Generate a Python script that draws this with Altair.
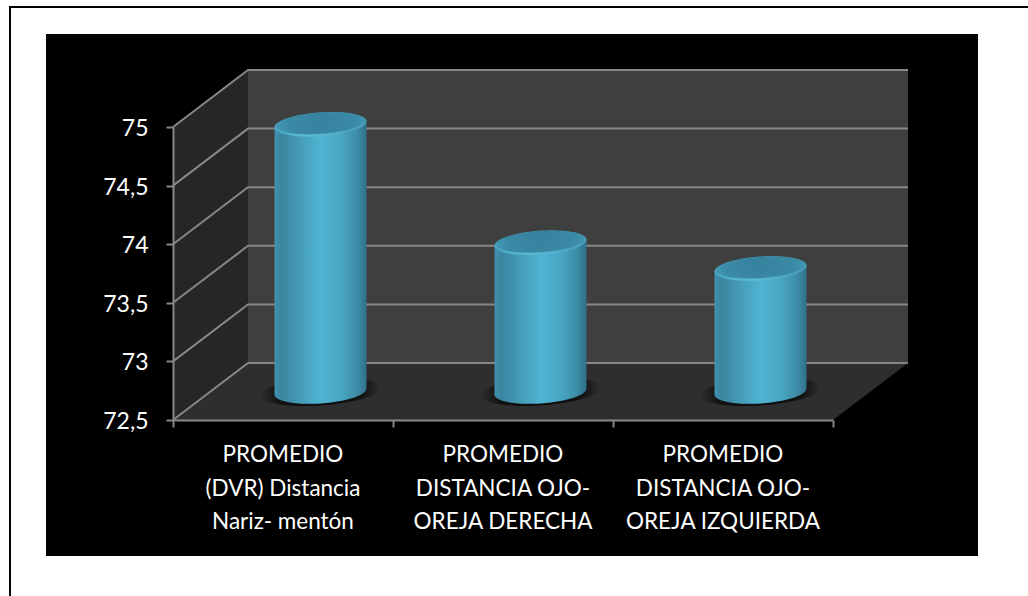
import numpy as np
import pandas as pd
import altair as alt

# Chart content
categories = [
    "PROMEDIO\n(DVR) Distancia\nNariz- mentón",
    "PROMEDIO\nDISTANCIA OJO-\nOREJA DERECHA",
    "PROMEDIO\nDISTANCIA OJO-\nOREJA IZQUIERDA",
]
values = [74.78, 73.77, 73.55]
y_ticks = [72.5, 73, 73.5, 74, 74.5, 75]
x_ticks = [0, 1, 2, 3]

# Plot box and oblique projection
PLOT_W, PLOT_H = 660, 293
Y_MIN, Y_MAX = 72.5, 75.0
PX_X = PLOT_W / 3
PX_Y = PLOT_H / (Y_MAX - Y_MIN)
DEPTH_X = 75 / PX_X
DEPTH_Y = 57 / PX_Y

GRID = "#878787"
FONT = "Lato"


def hx(px):
    return px / PX_X


def vy(px):
    return px / PX_Y


# Scales and axes shared by every layer
x_scale = alt.Scale(domain=[0, 3], range=[0, PLOT_W], nice=False, zero=False)
y_scale = alt.Scale(domain=[Y_MIN, Y_MAX], range=[PLOT_H, 0], nice=False, zero=False)
axis_base = dict(
    domainColor=GRID, domainWidth=2, tickColor=GRID, tickWidth=2, tickSize=7,
    labelColor="#ffffff", labelFont=FONT, grid=False, title=None,
    zindex=1,
)
x_axis = alt.Axis(values=x_ticks, labels=False, **axis_base)
y_axis = alt.Axis(
    values=y_ticks, labelPadding=18, labelFontSize=23, labelOffset=1.5,
    labelExpr="replace(format(datum.value, '.1~f'), '.', ',')",
    **axis_base,
)
X = lambda f: alt.X(f, type="quantitative", scale=x_scale, axis=x_axis)
Y = lambda f: alt.Y(f, type="quantitative", scale=y_scale, axis=y_axis)


def rect_layer(x0, x1, y0, y1, color):
    df = pd.DataFrame({"x": [x0], "x2": [x1], "y": [y0], "y2": [y1]})
    return alt.Chart(df).mark_rect(color=color).encode(
        x=X("x"), x2="x2", y=Y("y"), y2="y2"
    )


# Black panel and page rules
panel = rect_layer(hx(46 - 173), hx(978 - 173), Y_MIN + vy(420 - 34), Y_MIN - vy(556 - 420), "#000000")
rule_top = rect_layer(hx(9 - 173), hx(1028 - 173), Y_MIN + vy(420 - 6), Y_MIN + vy(420 - 8), "#000000")
rule_left = rect_layer(hx(9 - 173), hx(11 - 173), Y_MIN + vy(420 - 6), Y_MIN - vy(596 - 420), "#000000")

# Walls and floor of the box
side_wall = pd.DataFrame({
    "x": [0, DEPTH_X],
    "y": [Y_MAX, Y_MAX + DEPTH_Y],
    "y2": [Y_MIN, Y_MIN + DEPTH_Y],
})
back_wall = pd.DataFrame({
    "x": [DEPTH_X, 3 + DEPTH_X],
    "y": [Y_MAX + DEPTH_Y] * 2,
    "y2": [Y_MIN + DEPTH_Y] * 2,
})
floor = pd.DataFrame({
    "x": [0, DEPTH_X, 3, 3 + DEPTH_X],
    "y": [Y_MIN, Y_MIN + DEPTH_Y, Y_MIN + DEPTH_Y, Y_MIN + DEPTH_Y],
    "y2": [Y_MIN, Y_MIN, Y_MIN, Y_MIN + DEPTH_Y],
})


def wall_layer(df, color):
    return alt.Chart(df).mark_area(color=color, interpolate="linear").encode(
        x=X("x"), y=Y("y"), y2="y2"
    )


# Gridlines running along the side wall and across the back wall
grid_rows = []
for i, t in enumerate(y_ticks):
    grid_rows += [
        {"g": i, "o": 0, "x": 0, "y": t},
        {"g": i, "o": 1, "x": DEPTH_X, "y": t + DEPTH_Y},
        {"g": i, "o": 2, "x": 3 + DEPTH_X, "y": t + DEPTH_Y},
    ]
grid = alt.Chart(pd.DataFrame(grid_rows)).mark_line(
    color=GRID, strokeWidth=2, interpolate="linear"
).encode(x=X("x"), y=Y("y"), detail="g:N", order="o:Q")


def ellipse_rows(cy_value, half_w, half_h, tilt, i):
    """Upper and lower edge of a sheared ellipse in data units."""
    cx = i + 0.5 + DEPTH_X / 2
    t = np.linspace(np.pi, 0, 90)
    u = np.cos(t)
    centre = tilt * u * half_w
    return pd.DataFrame({
        "bar": i,
        "x": cx + hx(half_w * u),
        "upper": cy_value + vy(centre + half_h * np.sin(t)),
        "lower": cy_value + vy(centre - half_h * np.sin(t)),
    })


HALF_W, HALF_H, TILT = 46, 12, 3 / 46
base_y = Y_MIN + DEPTH_Y / 2

shadows, bodies, tops, inner_tops = [], [], [], []
for i, v in enumerate(values):
    top_y = v + DEPTH_Y / 2
    shadows.append(ellipse_rows(base_y, HALF_W + 14, HALF_H + 2, TILT, i))
    base = ellipse_rows(base_y, HALF_W, HALF_H, TILT, i)
    cap = ellipse_rows(top_y, HALF_W, HALF_H, TILT, i)
    bodies.append(base.assign(upper=(cap["upper"] + cap["lower"]) / 2))
    tops.append(cap)
    inner_tops.append(ellipse_rows(top_y + vy(1), HALF_W - 2, HALF_H - 1.5, TILT, i))


def ellipse_layer(frames, fill):
    data = pd.concat(frames, ignore_index=True)
    return alt.Chart(data).mark_area(interpolate="linear", fill=fill).encode(
        x=X("x"), y=Y("upper"), y2="lower", detail="bar:N"
    )


shadow_fill = {
    "gradient": "radial", "x1": 0.5, "y1": 0.5, "r1": 0, "x2": 0.5, "y2": 0.5, "r2": 0.5,
    "stops": [
        {"offset": 0, "color": "#0e0e0e"},
        {"offset": 0.7, "color": "#121212"},
        {"offset": 1, "color": "#2e2e2e"},
    ],
}
body_fill = {
    "gradient": "linear", "x1": 0, "y1": 0, "x2": 1, "y2": 0,
    "stops": [
        {"offset": 0, "color": "#4193ae"},
        {"offset": 0.07, "color": "#3b849e"},
        {"offset": 0.3, "color": "#469fba"},
        {"offset": 0.5, "color": "#4fb4d2"},
        {"offset": 0.72, "color": "#49a7c3"},
        {"offset": 0.9, "color": "#3e8ca6"},
        {"offset": 1, "color": "#30708a"},
    ],
}
cap_fill = {
    "gradient": "linear", "x1": 0, "y1": 0, "x2": 0, "y2": 1,
    "stops": [
        {"offset": 0, "color": "#3f90aa"},
        {"offset": 0.8, "color": "#4aa6c1"},
        {"offset": 1, "color": "#5cbcd6"},
    ],
}
inner_fill = {
    "gradient": "radial", "x1": 0.5, "y1": 0.4, "r1": 0, "x2": 0.5, "y2": 0.4, "r2": 0.62,
    "stops": [
        {"offset": 0, "color": "#37829e"},
        {"offset": 0.6, "color": "#3a89a5"},
        {"offset": 1, "color": "#479fba"},
    ],
}

# Category labels under the front edge
labels = alt.Chart(pd.DataFrame({
    "x": [i + 0.5 for i in range(len(categories))],
    "y": [Y_MIN] * len(categories),
    "t": categories,
})).mark_text(
    color="#ffffff", font=FONT, fontSize=22.5, lineBreak="\n", lineHeight=33.5,
    baseline="top", align="center", dy=24,
).encode(x=X("x"), y=Y("y"), text="t:N")

chart = alt.layer(
    panel, rule_top, rule_left,
    wall_layer(side_wall, "#262626"),
    wall_layer(back_wall, "#3f3f3f"),
    wall_layer(floor, "#2e2e2e"),
    grid,
    ellipse_layer(shadows, shadow_fill),
    ellipse_layer(bodies, body_fill),
    ellipse_layer(tops, cap_fill),
    ellipse_layer(inner_tops, inner_fill),
    labels,
).properties(
    width=PLOT_W,
    height=PLOT_H,
    padding={"left": 173, "right": 195, "top": 127, "bottom": 176},
    autosize=alt.AutoSizeParams(type="none"),
    background="#ffffff",
).configure_view(stroke=None)

chart.save("out.html", embed_options={"renderer": "svg", "actions": False})
